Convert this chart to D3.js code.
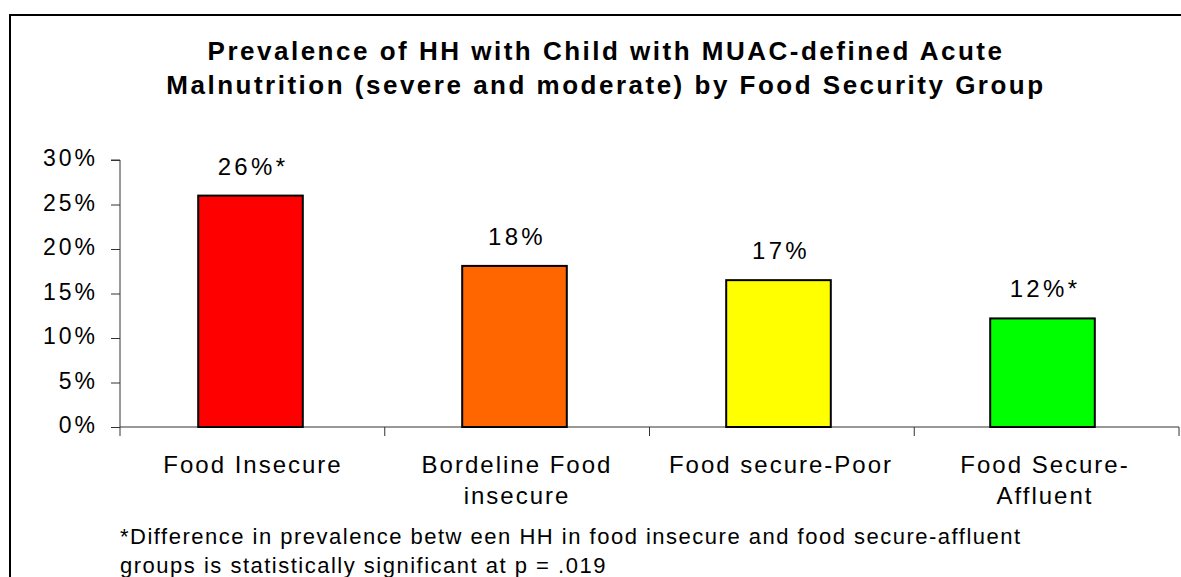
<!DOCTYPE html>
<html><head><meta charset="utf-8">
<script src="https://cdn.jsdelivr.net/npm/d3@7"></script>
<style>
html,body{margin:0;padding:0;background:#fff;}
svg{display:block;font-family:"Liberation Sans",Arial,sans-serif;}
</style></head>
<body>
<svg id="chart" width="1181" height="577"></svg>
<script>
const categories = [["Food Insecure"], ["Bordeline Food", "insecure"], ["Food secure-Poor"], ["Food Secure-", "Affluent"]];
const values = [26.0, 18.1, 16.5, 12.2];
const valueLabels = ["26%*", "18%", "17%", "12%*"];
const colors = ["#FF0000", "#FF6600", "#FFFF00", "#00FF00"];
const yTicks = [0, 5, 10, 15, 20, 25, 30];
const titleLines = ["Prevalence of HH with Child with MUAC-defined Acute", "Malnutrition (severe and moderate) by Food Security Group"];
const footnoteLines = ["*Difference in prevalence betw een HH in food insecure and food secure-affluent", "groups is statistically significant at p = .019"];

const svg = d3.select("#chart");
// outer frame
svg.append("rect").attr("x", 10).attr("y", 15).attr("width", 1190).attr("height", 600)
  .attr("fill", "none").attr("stroke", "#000").attr("stroke-width", 2);

const x0 = 120, x1 = 1176, yTop = 160, yBot = 427;
const n = categories.length;
const x = d3.scaleBand().domain(d3.range(n)).range([x0, x1]).paddingInner(0.6).paddingOuter(0.3);
const y = d3.scaleLinear().domain([0, 30]).range([yBot, yTop]);
const cx = i => x(i) + x.bandwidth() / 2;

// title
svg.append("g").selectAll("text").data(titleLines).join("text")
  .attr("x", 606).attr("y", (d, i) => 60 + i * 34)
  .attr("text-anchor", "middle").attr("font-size", 26).attr("font-weight", "bold")
  .attr("letter-spacing", 2.5).text(d => d);

// y axis
const yAxis = d3.axisLeft(y).tickValues(yTicks).tickSize(9).tickPadding(13).tickFormat(d => d + "%");
const gy = svg.append("g").attr("transform", `translate(${x0},0)`).call(yAxis);
gy.selectAll("path,line").attr("stroke", "#333").attr("stroke-width", 1);
gy.select(".domain").attr("d", `M-9,${yTop}H0V${yBot}`);
gy.selectAll("text").attr("font-size", 23).attr("letter-spacing", 3).attr("fill", "#000")
  .attr("dy", "0.24em")
  .attr("font-family", "Liberation Sans, Arial, sans-serif");

// x axis baseline with boundary ticks
const gx = svg.append("g");
gx.append("line").attr("x1", x0).attr("x2", x1 + 3).attr("y1", yBot).attr("y2", yBot).attr("stroke", "#333");
gx.selectAll("line.t").data(d3.range(n + 1)).join("line").attr("class", "t")
  .attr("x1", i => x0 + i * (x1 + 3 - x0) / n).attr("x2", i => x0 + i * (x1 + 3 - x0) / n)
  .attr("y1", yBot).attr("y2", yBot + 9).attr("stroke", "#333");

// bars
svg.append("g").selectAll("rect").data(values).join("rect")
  .attr("x", (d, i) => x(i) - 1)
  .attr("y", d => y(d)).attr("width", x.bandwidth() - 1).attr("height", d => yBot - y(d))
  .attr("fill", (d, i) => colors[i]).attr("stroke", "#000").attr("stroke-width", 2);

// value labels
svg.append("g").selectAll("text").data(values).join("text")
  .attr("x", (d, i) => cx(i) + 1)
  .attr("y", d => y(d) - 21)
  .attr("text-anchor", "middle").attr("font-size", 24).attr("letter-spacing", 3.3)
  .text((d, i) => valueLabels[i]);

// category labels
const cg = svg.append("g");
categories.forEach((lines, i) => {
  lines.forEach((t, j) => {
    cg.append("text").attr("x", cx(i) + 1).attr("y", 473 + j * 31)
      .attr("text-anchor", "middle").attr("font-size", 24).attr("letter-spacing", 2).text(t);
  });
});

// footnote
svg.append("g").selectAll("text").data(footnoteLines).join("text")
  .attr("x", 120).attr("y", (d, i) => 544 + i * 29)
  .attr("font-size", 22).attr("letter-spacing", 1.5).text(d => d);
</script>
</body></html>
